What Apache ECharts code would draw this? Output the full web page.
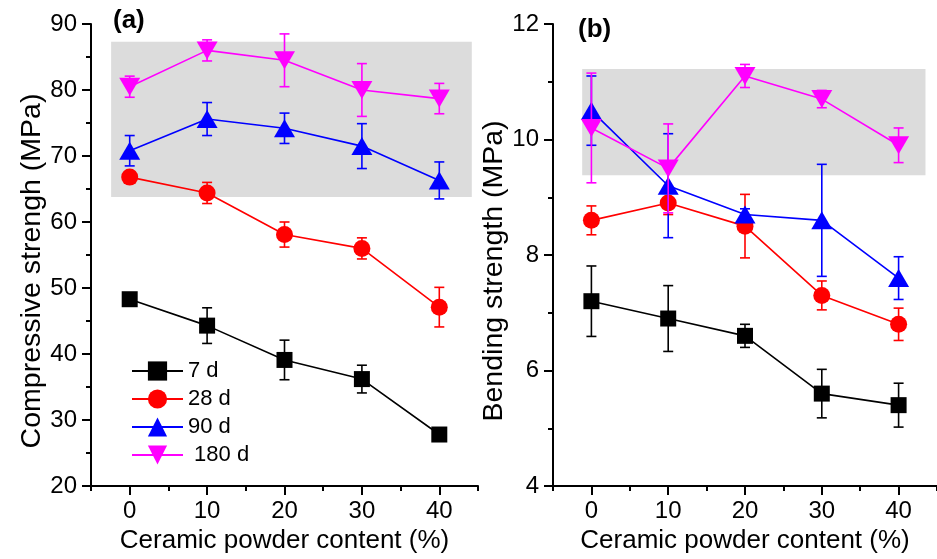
<!DOCTYPE html>
<html>
<head>
<meta charset="utf-8">
<script src="https://cdn.jsdelivr.net/npm/echarts@6/dist/echarts.min.js"></script>
<style>html,body{margin:0;padding:0;background:#fff;}#c{width:937px;height:559px;}</style>
</head>
<body>
<div id="c"></div>
<script>
// ---- data ----
const content = [0, 10, 20, 30, 40];
const seriesNames = ['7 d', '28 d', '90 d', ' 180 d'];

const comp7 = [48.3, 44.3, 39.1, 36.2, 27.8];
const comp7Err = [0.5, 2.7, 3.0, 2.1, 0.6];
const comp28 = [66.8, 64.4, 58.1, 56.0, 47.1];
const comp28Err = [0.6, 1.6, 1.9, 1.6, 3.0];
const comp90 = [70.8, 75.6, 74.2, 71.5, 66.3];
const comp90Err = [2.3, 2.5, 2.3, 3.4, 2.8];
const comp180 = [80.5, 86.0, 84.5, 80.0, 78.7];
const comp180Err = [1.6, 1.6, 4.0, 4.0, 2.3];

const bend7 = [7.2, 6.9, 6.6, 5.6, 5.4];
const bend7Err = [0.61, 0.57, 0.2, 0.42, 0.38];
const bend28 = [8.6, 8.9, 8.5, 7.3, 6.8];
const bend28Err = [0.25, 0.2, 0.55, 0.25, 0.28];
const bend90 = [10.5, 9.2, 8.7, 8.6, 7.6];
const bend90Err = [0.6, 0.9, 0.1, 0.97, 0.37];
const bend180 = [10.2, 9.5, 11.1, 10.7, 9.9];
const bend180Err = [0.95, 0.77, 0.2, 0.15, 0.3];

// shaded regions [x0, y0, x1, y1]
const boxA = [-2.4, 63.8, 44.2, 87.3];
const boxB = [-1.2, 9.38, 43.5, 11.22];

const xMajorTicks = [0, 10, 20, 30, 40];
const xMinorTicks = [-5, 5, 15, 25, 35, 45];

// ---- styling ----
const FONT = '"Liberation Sans", Arial, Helvetica, sans-serif';
const colors = ['#000000', '#ff0000', '#0000ff', '#ff00ff'];
const symbols = ['rect', 'circle', 'triangle', 'triangle'];
const symbolSizes = [16, 17, [21, 18], [21, 18]];
const symbolRotates = [0, 0, 0, 180];

const chart = echarts.init(document.getElementById('c'), null, {renderer: 'canvas'});

function zip(v) { return content.map((x, i) => [x, v[i]]); }
function errData(v, e) { return content.map((x, i) => [x, v[i] - e[i], v[i] + e[i]]); }

function errorRender(color) {
  return function (params, api) {
    const x = api.value(0), lo = api.value(1), hi = api.value(2);
    const t = api.coord([x, hi]);
    const b = api.coord([x, lo]);
    const hw = 5;
    const st = {stroke: color, lineWidth: 1.6};
    return {
      type: 'group',
      children: [
        {type: 'line', shape: {x1: t[0], y1: t[1], x2: b[0], y2: b[1]}, style: st},
        {type: 'line', shape: {x1: t[0] - hw, y1: t[1], x2: t[0] + hw, y2: t[1]}, style: st},
        {type: 'line', shape: {x1: b[0] - hw, y1: b[1], x2: b[0] + hw, y2: b[1]}, style: st}
      ]
    };
  };
}

function boxRender(params, api) {
  const p0 = api.coord([api.value(0), api.value(3)]);
  const p1 = api.coord([api.value(2), api.value(1)]);
  return {type: 'rect', shape: {x: p0[0], y: p0[1], width: p1[0] - p0[0], height: p1[1] - p0[1]}, style: {fill: '#dcdcdc'}};
}

function xAxisMain(gridIndex) {
  return {
    type: 'value', gridIndex: gridIndex, min: -5, max: 45, position: 'bottom', offset: 0,
    name: 'Ceramic powder content (%)', nameLocation: 'middle', nameGap: 42,
    nameTextStyle: {fontFamily: FONT, fontSize: 26, color: '#000'},
    axisLine: {show: true, onZero: false, lineStyle: {color: '#000', width: 2}},
    axisTick: {show: true, length: 9, lineStyle: {color: '#000', width: 2}, customValues: xMajorTicks},
    axisLabel: {fontFamily: FONT, fontSize: 24, color: '#000', margin: 13, customValues: xMajorTicks},
    splitLine: {show: false}
  };
}
function xAxisMinor(gridIndex) {
  return {
    type: 'value', gridIndex: gridIndex, min: -5, max: 45, position: 'bottom', offset: 0,
    axisLine: {show: false, onZero: false},
    axisTick: {show: true, length: 5, lineStyle: {color: '#000', width: 2}, customValues: xMinorTicks},
    axisLabel: {show: false},
    splitLine: {show: false}
  };
}
function yAxis(gridIndex, min, max, interval, name, gap) {
  return {
    type: 'value', gridIndex: gridIndex, min: min, max: max, interval: interval,
    name: name, nameLocation: 'middle', nameGap: gap,
    nameTextStyle: {fontFamily: FONT, fontSize: 28.5, color: '#000', padding: [0, 32, 0, 0]},
    axisLine: {show: true, onZero: false, lineStyle: {color: '#000', width: 2}},
    axisTick: {show: true, length: 9, lineStyle: {color: '#000', width: 2}},
    minorTick: {show: true, splitNumber: 2, length: 5, lineStyle: {color: '#000', width: 2}},
    axisLabel: {fontFamily: FONT, fontSize: 24, color: '#000', margin: 14},
    splitLine: {show: false}, minorSplitLine: {show: false}
  };
}

const compSets = [[comp7, comp7Err], [comp28, comp28Err], [comp90, comp90Err], [comp180, comp180Err]];
const bendSets = [[bend7, bend7Err], [bend28, bend28Err], [bend90, bend90Err], [bend180, bend180Err]];

const series = [];
series.push({type: 'custom', name: 'boxA', xAxisIndex: 0, yAxisIndex: 0, z: 0, silent: true,
  renderItem: boxRender, data: [boxA], encode: {x: [0, 2], y: [1, 3]}});
series.push({type: 'custom', name: 'boxB', xAxisIndex: 2, yAxisIndex: 1, z: 0, silent: true,
  renderItem: boxRender, data: [boxB], encode: {x: [0, 2], y: [1, 3]}});

[[compSets, 0, 0], [bendSets, 2, 1]].forEach(([sets, xi, yi]) => {
  sets.forEach(([vals, errs], k) => {
    series.push({
      type: 'line', name: seriesNames[k], xAxisIndex: xi, yAxisIndex: yi, z: 3 + k * 2,
      data: zip(vals), symbol: symbols[k], symbolSize: symbolSizes[k], symbolRotate: symbolRotates[k],
      showAllSymbol: true, animation: false,
      lineStyle: {color: colors[k], width: 1.6}, itemStyle: {color: colors[k], borderWidth: 0}
    });
    series.push({
      type: 'custom', name: 'err' + k + '_' + yi, xAxisIndex: xi, yAxisIndex: yi, z: 2 + k * 2,
      renderItem: errorRender(colors[k]), data: errData(vals, errs), encode: {x: 0, y: [1, 2]}, animation: false
    });
  });
});

chart.setOption({
  animation: false,
  backgroundColor: '#ffffff',
  title: [
    {text: '(a)', left: 108, top: 3, textStyle: {fontFamily: FONT, fontSize: 26, fontWeight: 'bold', color: '#000'}},
    {text: '(b)', left: 573, top: 12, textStyle: {fontFamily: FONT, fontSize: 26, fontWeight: 'bold', color: '#000'}}
  ],
  grid: [
    {left: 91, top: 24, width: 387, height: 462},
    {left: 553, top: 24, width: 386, height: 462}
  ],
  xAxis: [xAxisMain(0), xAxisMinor(0), xAxisMain(1), xAxisMinor(1)],
  yAxis: [
    yAxis(0, 20, 90, 10, 'Compressive strengh (MPa)', 40),
    yAxis(1, 4, 12, 2, 'Bending strength (MPa)', 41)
  ],
  legend: {
    data: seriesNames, orient: 'vertical', left: 131, top: 360, padding: 0,
    itemWidth: 51, itemHeight: 24, itemGap: 6,
    textStyle: {fontFamily: FONT, fontSize: 22, color: '#000'}
  },
  series: series
});
</script>
</body>
</html>
